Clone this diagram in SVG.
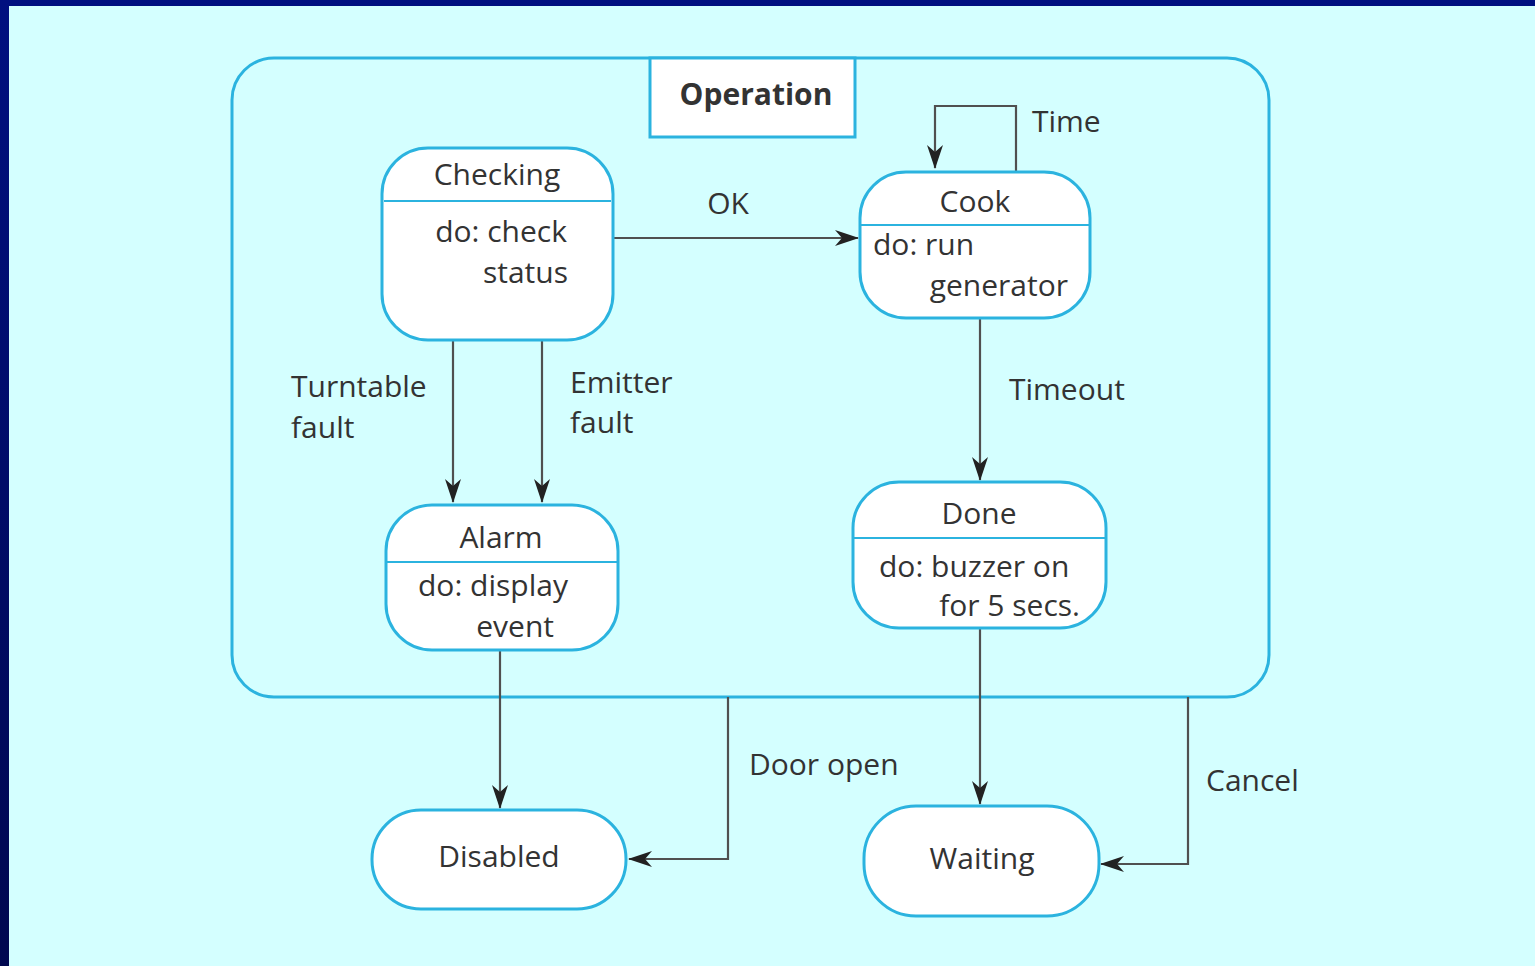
<svg xmlns="http://www.w3.org/2000/svg" width="1535" height="966" viewBox="0 0 1535 966">
<defs>
<linearGradient id="bd" x1="0" y1="0" x2="0" y2="1">
<stop offset="0" stop-color="#001080"/>
<stop offset="1" stop-color="#000850"/>
</linearGradient>
<marker id="ah" markerWidth="24" markerHeight="16" refX="23" refY="8" orient="auto" markerUnits="userSpaceOnUse">
<path d="M0,0 L24,8 L0,16 L7,8 Z" fill="#222"/>
</marker>
<style>
.st{fill:#fff;stroke:#2bb3df;stroke-width:3}
.dv{stroke:#2bb3df;stroke-width:2}
.t{font-family:"Open Sans","Noto Sans","Liberation Sans",sans-serif;font-size:30px;fill:#333}
.c{stroke:#505050;stroke-width:2.2;fill:none;marker-end:url(#ah)}
</style>
</defs>
<rect x="0" y="0" width="1535" height="966" fill="url(#bd)"/>
<rect x="9" y="6" width="1526" height="960" fill="#d4ffff"/>
<g id="operation">
<rect x="232" y="58" width="1037" height="639" rx="42" fill="none" stroke="#2bb3df" stroke-width="3"/>
<rect x="650" y="58" width="205" height="79" fill="#fff" stroke="#2bb3df" stroke-width="3"/>
<text class="t" x="756" y="105" text-anchor="middle" font-weight="bold">Operation</text>
</g>
<g id="connectors">
<path class="c" d="M613,238 H858"/>
<text class="t" x="728" y="214" text-anchor="middle">OK</text>
<path class="c" d="M1016,172 V106 H935 V168"/>
<text class="t" x="1032" y="132">Time</text>
<path class="c" d="M453,340 V502"/>
<text class="t" x="291" y="397">Turntable</text>
<text class="t" x="291" y="438">fault</text>
<path class="c" d="M542,340 V502"/>
<text class="t" x="570" y="393">Emitter</text>
<text class="t" x="570" y="433">fault</text>
<path class="c" d="M980,318 V480"/>
<text class="t" x="1009" y="400">Timeout</text>
<path class="c" d="M500,650 V808"/>
<path class="c" d="M728,697 V859 H629"/>
<text class="t" x="749" y="775">Door open</text>
<path class="c" d="M980,628 V804"/>
<path class="c" d="M1188,697 V864 H1101"/>
<text class="t" x="1206" y="791">Cancel</text>
</g>
<g id="checking">
<rect class="st" x="382" y="148" width="231" height="192" rx="46"/>
<line class="dv" x1="384" y1="201" x2="611" y2="201"/>
<text class="t" x="497" y="185" text-anchor="middle">Checking</text>
<text class="t" x="567" y="242" text-anchor="end">do: check</text>
<text class="t" x="568" y="283" text-anchor="end">status</text>
</g>
<g id="cook">
<rect class="st" x="860" y="172" width="230" height="146" rx="46"/>
<line class="dv" x1="861" y1="225" x2="1089" y2="225"/>
<text class="t" x="975" y="212" text-anchor="middle">Cook</text>
<text class="t" x="873" y="255">do: run</text>
<text class="t" x="1068" y="296" text-anchor="end">generator</text>
</g>
<g id="alarm">
<rect class="st" x="386" y="505" width="232" height="145" rx="46"/>
<line class="dv" x1="387" y1="562" x2="617" y2="562"/>
<text class="t" x="501" y="548" text-anchor="middle">Alarm</text>
<text class="t" x="418" y="596">do: display</text>
<text class="t" x="554" y="637" text-anchor="end">event</text>
</g>
<g id="done">
<rect class="st" x="853" y="482" width="253" height="146" rx="46"/>
<line class="dv" x1="854" y1="538" x2="1105" y2="538"/>
<text class="t" x="979" y="524" text-anchor="middle">Done</text>
<text class="t" x="879" y="577">do: buzzer on</text>
<text class="t" x="1080" y="616" text-anchor="end">for 5 secs.</text>
</g>
<g id="disabled">
<rect class="st" x="372" y="810" width="254" height="99" rx="49"/>
<text class="t" x="499" y="867" text-anchor="middle">Disabled</text>
</g>
<g id="waiting">
<rect class="st" x="864" y="806" width="235" height="110" rx="52"/>
<text class="t" x="982" y="869" text-anchor="middle">Waiting</text>
</g>
</svg>
